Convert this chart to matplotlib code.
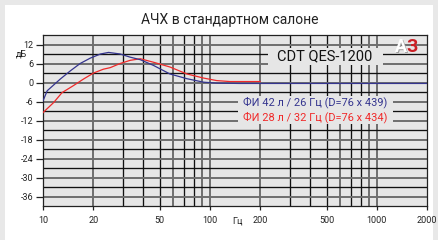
import matplotlib
matplotlib.use("Agg")
import matplotlib.pyplot as plt
import numpy as np
from matplotlib.patches import Rectangle

plt.rcParams['font.family'] = ['Roboto', 'DejaVu Sans']

title = "АЧХ в стандартном салоне"
model = "CDT QES-1200"
label_blue = "ФИ 42 л / 26 Гц (D=76 x 439)"
label_red = "ФИ 28 л / 32 Гц (D=76 x 434)"

blue_f = [10, 10.6, 12.7, 14.6, 16.7, 19.2, 22.1, 24.7, 29, 33.3, 38.3, 45.9, 57.6, 72.8, 91.7, 110, 150, 200, 500, 1000, 2000]
blue_db = [-5.8, -2.6, 1.1, 3.7, 6.0, 7.7, 9.0, 9.5, 9.0, 8.0, 7.2, 5.4, 2.7, 1.2, 0.1, -0.2, -0.3, -0.3, -0.3, -0.3, -0.3]
red_f = [10, 11.6, 13.0, 15.2, 17.5, 20.1, 23.0, 25.3, 29, 33.3, 38.3, 45.9, 57.6, 72.8, 91.7, 110, 132, 200]
red_db = [-9.5, -6.3, -3.2, -1.0, 1.1, 3.0, 4.2, 4.7, 6.0, 7.0, 7.5, 6.4, 4.9, 2.7, 1.4, 0.6, 0.3, 0.3]

x_ticks = [10, 20, 50, 100, 200, 500, 1000, 2000]
x_tick_labels = ["10", "20", "50", "100", "200", "500", "1000", "2000"]
y_ticks = [12, 6, 0, -6, -12, -18, -24, -30, -36]
grey_vlines = [20, 60, 90, 100, 200, 600, 900, 1000]
black_vlines = [30, 40, 50, 70, 80, 300, 400, 500, 700, 800]
grey_hlines = [12, 6, 0, -6, -12, -18, -24, -30, -36]
black_hlines = [9, 3, -3, -9, -15, -21, -27, -33]

W, H = 438, 240
fig = plt.figure(figsize=(W / 100, H / 100), dpi=100, facecolor="#e8e8e8")
bg = Rectangle((5 / W, 0), 1 - 10 / W, 1 - 5 / H, transform=fig.transFigure,
               facecolor="white", edgecolor="none", zorder=-5)
fig.add_artist(bg)

ax = fig.add_axes([43 / W, 1 - 206 / H, (427 - 43) / W, (206 - 35) / H])
ax.set_zorder(1)
ax.set_facecolor("#e6e6e6")
ax.set_xscale("log")
ax.set_xlim(10, 2000)
ax.set_ylim(-39, 15)

for v in grey_vlines:
    ax.axvline(v, color="#6e6e6e", lw=1.4, zorder=1)
for v in black_vlines:
    ax.axvline(v, color="#111111", lw=0.95, zorder=1)
for h in grey_hlines:
    ax.axhline(h, color="#6e6e6e", lw=1.4, zorder=1)
for h in black_hlines:
    ax.axhline(h, color="#111111", lw=0.95, zorder=1)

ax.plot(red_f, red_db, color="#f02a2a", lw=0.9, zorder=3)
ax.plot(blue_f, blue_db, color="#35358f", lw=0.9, zorder=4)

for s in ax.spines.values():
    s.set_color("#222222")
    s.set_linewidth(0.9)

ax.set_xticks(x_ticks)
ax.set_xticklabels(x_tick_labels)
ax.xaxis.set_minor_locator(matplotlib.ticker.NullLocator())
ax.set_yticks(y_ticks)
ax.set_yticklabels([str(t) for t in y_ticks])
ax.tick_params(axis="y", direction="out", length=5, width=0.9, labelsize=6.5, pad=2, colors="#222222")
ax.tick_params(axis="x", direction="out", length=3, width=0.9, labelsize=6.5, pad=4, colors="#222222")

fig.text(230 / W, 1 - 20 / H, title, ha="center", va="center", fontsize=10, color="#222222")
fig.text(21 / W, 1 - 54 / H, "дБ", ha="center", va="center", fontsize=6.5, color="#222222")
fig.text(237 / W, 1 - 221 / H, "Гц", ha="center", va="center", fontsize=6.5, color="#222222")

# model name box
ax.add_patch(Rectangle(((268 - 43) / 384, (206 - 65) / 171), 115 / 384, 17 / 171,
                       transform=ax.transAxes, facecolor="#e6e6e6", edgecolor="none", zorder=5))
ax.text((325 - 43) / 384, (206 - 56.5) / 171, model, transform=ax.transAxes, ha="center", va="center",
        fontsize=10.5, color="#111111", zorder=6)
# legend box
ax.add_patch(Rectangle(((238 - 43) / 384, (206 - 124) / 171), 155 / 384, 28 / 171,
                       transform=ax.transAxes, facecolor="#e6e6e6", edgecolor="none", zorder=5))
ax.text((315 - 43) / 384, (206 - 102.5) / 171, label_blue, transform=ax.transAxes, ha="center", va="center",
        fontsize=7.9, color="#35358f", zorder=6)
ax.text((315 - 43) / 384, (206 - 117.5) / 171, label_red, transform=ax.transAxes, ha="center", va="center",
        fontsize=7.9, color="#f02a2a", zorder=6)

fig.text(401.5 / W, 1 - 48 / H, "А", ha="center", va="center", fontsize=13, fontweight="bold",
         color="#a0a0a0", zorder=8)
fig.text(400.5 / W, 1 - 47 / H, "А", ha="center", va="center", fontsize=13, fontweight="bold",
         color="white", zorder=9)
fig.text(412 / W, 1 - 47 / H, "З", ha="center", va="center", fontsize=13, fontweight="bold",
         color="#cc1f25", zorder=9)

fig.savefig("out.png", dpi=100, facecolor=fig.get_facecolor())
